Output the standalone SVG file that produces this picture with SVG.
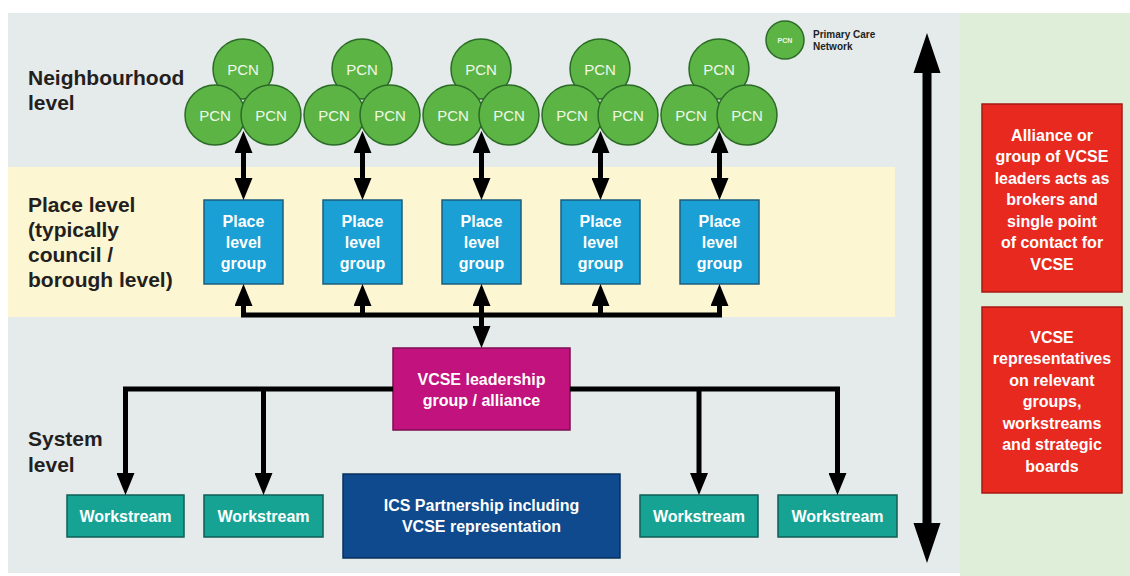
<svg xmlns="http://www.w3.org/2000/svg" width="1130" height="576" viewBox="0 0 1130 576">
<style>
.lbl{font-family:"Liberation Sans",Arial,sans-serif;font-weight:bold;font-size:21px;fill:#231f20}
.t{font-family:"Liberation Sans",Arial,sans-serif;font-weight:bold;font-size:16px;fill:#ffffff;text-anchor:middle;dominant-baseline:central}
.pcn circle{fill:#5cb445;stroke:#2b6b27;stroke-width:1.5}
.pt{font-family:"Liberation Sans",Arial,sans-serif;font-size:15px;fill:#f0f8ea;text-anchor:middle;dominant-baseline:central}
.place{fill:#1aa0d5;stroke:#1d5d7c;stroke-width:1.5}
.ws{fill:#17a394;stroke:#0f5e56;stroke-width:1.5}
.red{fill:#e8291f;stroke:#a81a13;stroke-width:1.5}
.c{fill:none;stroke:#000;stroke-width:5}
</style>
<defs>
<marker id="ah" viewBox="0 0 22 18" markerUnits="userSpaceOnUse" markerWidth="22" markerHeight="18" refX="11" refY="9" orient="auto-start-reverse">
<path d="M0,0 L22,9 L0,18 z" fill="#000"/>
</marker>
</defs>
<rect x="0" y="0" width="1130" height="576" fill="#ffffff"/>
<rect x="8" y="13" width="952" height="560" fill="#e5eaeb"/>
<rect x="960" y="13" width="170" height="563" fill="#dfeed9"/>
<rect x="8" y="167" width="887" height="150" fill="#fdf6d2"/>

<text class="lbl" x="28" y="85">Neighbourhood</text>
<text class="lbl" x="28" y="110">level</text>
<text class="lbl" x="28" y="212">Place level</text>
<text class="lbl" x="28" y="237">(typically</text>
<text class="lbl" x="28" y="262">council /</text>
<text class="lbl" x="28" y="287">borough level)</text>
<text class="lbl" x="28" y="446">System</text>
<text class="lbl" x="28" y="472">level</text>

<g id="legend">
<circle cx="785" cy="40" r="19" fill="#5cb445" stroke="#2b6b27" stroke-width="1.5"/>
<text x="785" y="40" font-family="Liberation Sans, Arial, sans-serif" font-size="7" font-weight="bold" fill="#f0f8ea" text-anchor="middle" dominant-baseline="central">PCN</text>
<text x="813" y="38" font-family="Liberation Sans, Arial, sans-serif" font-size="10" font-weight="bold" fill="#231f20">Primary Care</text>
<text x="813" y="50" font-family="Liberation Sans, Arial, sans-serif" font-size="10" font-weight="bold" fill="#231f20">Network</text>
</g>

<g id="pcn1" class="pcn">
<circle cx="243" cy="69" r="30"/><circle cx="215" cy="115" r="30"/><circle cx="271" cy="115" r="30"/>
<text class="pt" x="243" y="69">PCN</text><text class="pt" x="215" y="115">PCN</text><text class="pt" x="271" y="115">PCN</text>
</g>
<g id="pcn2" class="pcn">
<circle cx="362" cy="69" r="30"/><circle cx="334" cy="115" r="30"/><circle cx="390" cy="115" r="30"/>
<text class="pt" x="362" y="69">PCN</text><text class="pt" x="334" y="115">PCN</text><text class="pt" x="390" y="115">PCN</text>
</g>
<g id="pcn3" class="pcn">
<circle cx="481" cy="69" r="30"/><circle cx="453" cy="115" r="30"/><circle cx="509" cy="115" r="30"/>
<text class="pt" x="481" y="69">PCN</text><text class="pt" x="453" y="115">PCN</text><text class="pt" x="509" y="115">PCN</text>
</g>
<g id="pcn4" class="pcn">
<circle cx="600" cy="69" r="30"/><circle cx="572" cy="115" r="30"/><circle cx="628" cy="115" r="30"/>
<text class="pt" x="600" y="69">PCN</text><text class="pt" x="572" y="115">PCN</text><text class="pt" x="628" y="115">PCN</text>
</g>
<g id="pcn5" class="pcn">
<circle cx="719" cy="69" r="30"/><circle cx="691" cy="115" r="30"/><circle cx="747" cy="115" r="30"/>
<text class="pt" x="719" y="69">PCN</text><text class="pt" x="691" y="115">PCN</text><text class="pt" x="747" y="115">PCN</text>
</g>

<g id="place1"><rect class="place" x="204" y="200" width="79" height="84"/>
<text class="t" x="243.5" y="221">Place</text><text class="t" x="243.5" y="242">level</text><text class="t" x="243.5" y="263">group</text></g>
<g id="place2"><rect class="place" x="323" y="200" width="79" height="84"/>
<text class="t" x="362.5" y="221">Place</text><text class="t" x="362.5" y="242">level</text><text class="t" x="362.5" y="263">group</text></g>
<g id="place3"><rect class="place" x="442" y="200" width="79" height="84"/>
<text class="t" x="481.5" y="221">Place</text><text class="t" x="481.5" y="242">level</text><text class="t" x="481.5" y="263">group</text></g>
<g id="place4"><rect class="place" x="561" y="200" width="79" height="84"/>
<text class="t" x="600.5" y="221">Place</text><text class="t" x="600.5" y="242">level</text><text class="t" x="600.5" y="263">group</text></g>
<g id="place5"><rect class="place" x="680" y="200" width="79" height="84"/>
<text class="t" x="719.5" y="221">Place</text><text class="t" x="719.5" y="242">level</text><text class="t" x="719.5" y="263">group</text></g>

<g id="vcse-leadership"><rect x="393" y="348" width="177" height="82" fill="#c1127e" stroke="#7d0c52" stroke-width="1.5"/>
<text class="t" x="481.5" y="379">VCSE leadership</text><text class="t" x="481.5" y="400">group / alliance</text></g>

<g id="ws1"><rect class="ws" x="67" y="495" width="117" height="42"/><text class="t" x="125.5" y="516">Workstream</text></g>
<g id="ws2"><rect class="ws" x="204" y="495" width="119" height="42"/><text class="t" x="263.5" y="516">Workstream</text></g>
<g id="ws3"><rect class="ws" x="640" y="495" width="118" height="42"/><text class="t" x="699" y="516">Workstream</text></g>
<g id="ws4"><rect class="ws" x="778" y="495" width="119" height="42"/><text class="t" x="837.5" y="516">Workstream</text></g>

<g id="ics"><rect x="343" y="474" width="277" height="84" fill="#0e4a8d" stroke="#08305e" stroke-width="1.5"/>
<text class="t" x="481.5" y="505">ICS Partnership including</text><text class="t" x="481.5" y="526">VCSE representation</text></g>

<g id="red1"><rect class="red" x="982" y="104" width="140" height="188"/>
<text class="t" x="1052" y="135">Alliance or</text>
<text class="t" x="1052" y="156.5">group of VCSE</text>
<text class="t" x="1052" y="178">leaders acts as</text>
<text class="t" x="1052" y="199.5">brokers and</text>
<text class="t" x="1052" y="221">single point</text>
<text class="t" x="1052" y="242.5">of contact for</text>
<text class="t" x="1052" y="264">VCSE</text></g>
<g id="red2"><rect class="red" x="982" y="307" width="140" height="186"/>
<text class="t" x="1052" y="337">VCSE</text>
<text class="t" x="1052" y="358.5">representatives</text>
<text class="t" x="1052" y="380">on relevant</text>
<text class="t" x="1052" y="401.5">groups,</text>
<text class="t" x="1052" y="423">workstreams</text>
<text class="t" x="1052" y="444.5">and strategic</text>
<text class="t" x="1052" y="466">boards</text></g>

<g id="connectors">
<line class="c" x1="243.5" y1="142" x2="243.5" y2="189" marker-start="url(#ah)" marker-end="url(#ah)"/>
<line class="c" x1="362.5" y1="142" x2="362.5" y2="189" marker-start="url(#ah)" marker-end="url(#ah)"/>
<line class="c" x1="481.5" y1="142" x2="481.5" y2="189" marker-start="url(#ah)" marker-end="url(#ah)"/>
<line class="c" x1="600.5" y1="142" x2="600.5" y2="189" marker-start="url(#ah)" marker-end="url(#ah)"/>
<line class="c" x1="719.5" y1="142" x2="719.5" y2="189" marker-start="url(#ah)" marker-end="url(#ah)"/>
<path class="c" d="M243.5,295 L243.5,315 L719.5,315 L719.5,295" marker-start="url(#ah)" marker-end="url(#ah)"/>
<line class="c" x1="362.5" y1="315" x2="362.5" y2="295" marker-end="url(#ah)"/>
<line class="c" x1="481.5" y1="315" x2="481.5" y2="295" marker-end="url(#ah)"/>
<line class="c" x1="600.5" y1="315" x2="600.5" y2="295" marker-end="url(#ah)"/>
<line class="c" x1="481.5" y1="315" x2="481.5" y2="337" marker-end="url(#ah)"/>
<path class="c" d="M393,389 L125.5,389 L125.5,484" marker-end="url(#ah)"/>
<line class="c" x1="263.5" y1="389" x2="263.5" y2="484" marker-end="url(#ah)"/>
<path class="c" d="M570,389 L837.5,389 L837.5,484" marker-end="url(#ah)"/>
<line class="c" x1="699" y1="389" x2="699" y2="484" marker-end="url(#ah)"/>
<polygon points="927,33 940.5,73 931.5,73 931.5,523 940.5,523 927,563 913.5,523 922.5,523 922.5,73 913.5,73" fill="#000"/>
</g>
</svg>
